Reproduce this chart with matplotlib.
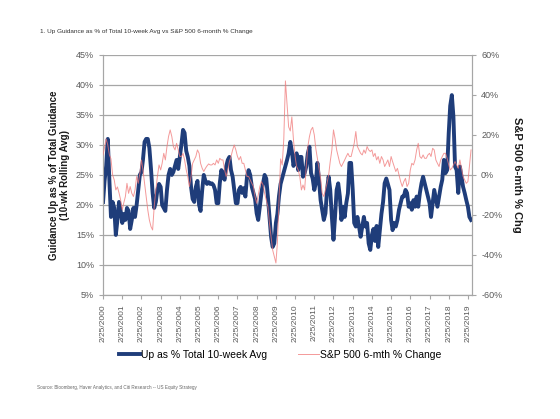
import matplotlib
matplotlib.use("Agg")
import matplotlib.pyplot as plt
import pandas as pd

plt.rcParams['font.family'] = ['Liberation Sans', 'DejaVu Sans']

# monthly readings, Feb 2000 .. Apr 2019
up_guidance = [
    20.5, 24, 26.5, 31, 24, 18, 20.5, 19.5, 15, 17.5, 20.5, 19,
    17, 18.5, 17.5, 19.5, 19, 16, 17.5, 19.5, 18, 20, 22.5, 25,
    25.5, 27.5, 30.5, 31, 31, 29.5, 26, 22, 19.5, 20.5, 22.5, 23.5,
    23, 20, 19.5, 19, 22.5, 25, 26, 25, 25.5, 26.5, 27.5, 26,
    28, 30, 32.5, 32, 29, 28, 26.5, 23, 21, 20.5, 23, 24,
    20, 19, 22.5, 25, 24, 23.5, 23.8, 23.5, 23.6, 23.3, 22.5, 20.3,
    20.3, 23.6, 25.8, 24.7, 24.2, 26.4, 27.5, 28, 25.8, 24.7, 22.5, 20.3,
    20.3, 22.5, 23, 22, 22.8, 21.4, 24.7, 25.8, 25, 23, 22, 21,
    18.6, 17.5, 19.7, 22, 23.6, 25, 24.4, 21.4, 18, 14.7, 13, 13.6,
    17, 18.5, 21.5, 23.5, 24.5, 25.5, 26.5, 27.5, 28.6, 30.5, 29, 26.5,
    27.5, 28.6, 25.8, 28, 28, 24.7, 25.3, 26.4, 28.6, 29.7, 25.3, 24.4,
    22.5, 23.6, 27, 24.2, 20.8, 19.2, 17.5, 18.6, 22.5, 24.7, 22.5, 18,
    14.2, 18, 22.5, 23.6, 21.4, 17.5, 19.7, 18, 20.3, 21.9, 27, 27,
    22.5, 17, 16.4, 18, 16.4, 14.7, 16.4, 18, 16.4, 17, 13.6, 12.5,
    15, 16, 14, 16.5, 13, 15.8, 18.5, 20.5, 23.6, 24.4, 23.5, 22.5,
    17.5, 15.8, 17, 16.4, 17.5, 19.2, 20.3, 21.4, 21.4, 22.5, 22, 19.7,
    20.3, 19.2, 20.8, 19.7, 21.4, 19.7, 22, 23.6, 24.7, 23.6, 22.5, 21.4,
    20.3, 18, 20.3, 22.5, 21.1, 19.7, 21.4, 23, 24.2, 27.5, 25.3, 25.8,
    32, 36.5, 38.3, 34.7, 26.4, 25.8, 22, 26.4, 24.7, 23, 22, 20.8,
    19.7, 18, 17.5,
]

spx_6m_chg = [
    10, 14, 18, 15, 10, 8, 0, -2.5, -7.5, -6, -9, -12.5,
    -17.5, -14, -10.8, -4.2, -9.2, -5.8, -9.2, -10.8, -7.5, -0.8, -4.2, 0.8,
    7.5, 2.5, -4.2, -10.8, -17.5, -22.5, -25.8, -27.5, -15.8, -7.5, -0.8, 5,
    2.5, 5.8, 10.8, 7.5, 14.2, 19.2, 22.5, 19.2, 14.2, 12.5, 15.8, 12.5,
    9.2, 9.2, 10.8, 7.5, 2.5, -0.8, -5.8, -0.8, 5.8, 7.5, 9.2, 12.5,
    10.8, 5.8, 3.3, 1.7, 3.3, 4.5, 5.5, 5, 5, 5.8, 5, 7.5,
    5.8, 8.3, 7.5, 7.5, 2.5, -0.8, 2.5, 6.7, 9.2, 12.5, 15, 12.5,
    9.2, 7.5, 9.2, 5.8, 5.8, 2.5, -0.8, -0.8, -2.5, -4.2, -5.8, -10.8,
    -14.2, -10, -5.8, -3.3, -5, -9.2, -12.5, -15.8, -24.2, -30.8, -37.5, -40.8,
    -44, -34, -12.5, 8, 5, 18, 47, 35, 24, 22, 29, 17.5,
    9.2, 4.2, 2.5, -0.8, -7.5, -5, -7.5, 4.2, 14.2, 19.2, 22.5, 23.8,
    20, 13.3, 8.3, 3.3, -1.7, -9.2, -10.8, -7.5, -4.2, 0, 6.7, 12.5,
    22.5, 18.3, 12.5, 9.2, 5.8, 4.2, 5.8, 7.5, 9.2, 10.8, 9.2, 9.2,
    12.5, 15.8, 21.7, 14.2, 12.5, 10.8, 10, 12.5, 10.8, 14.2, 12.5, 11.7,
    12.5, 9.2, 10.8, 7.5, 9.2, 5.8, 9.2, 7.5, 4.2, 5.8, 7.5, 4.2,
    9.2, 6.7, 4.2, 1.7, 3.3, 0, -3.3, -5.8, -3.3, -1.7, -5.8, -4.2,
    2.5, 5.8, 5, 7.5, 12.5, 15.8, 9.2, 8.3, 10, 8.3, 8.3, 10,
    10.8, 9.2, 13.3, 12.5, 7.5, 5.8, 4.2, 7.5, 9.2, 10.8, 10.8, 8.3,
    5, 2.5, 3.3, 5, 6.7, 5, 3.3, 7.5, 3.3, -0.8, -2.5, -4.2,
    -3.3, 4.2, 12.5,
]

tick_years = list(range(2000, 2020))

dates = pd.date_range("2000-02-01", periods=len(up_guidance), freq="MS") + pd.Timedelta(days=24)

grey = "#A6A6A6"
txt = "#595959"

fig = plt.figure(figsize=(5.6, 4.19), dpi=100)
ax = fig.add_axes([0.184, 0.296, 0.659, 0.573])
ax2 = ax.twinx()

ax.plot(dates, up_guidance, color="#1F3D7A", lw=2.8, solid_joinstyle="round",
        label="Up as % Total 10-week Avg", zorder=3)
ax2.plot(dates, spx_6m_chg, color="#F07878", lw=0.7, alpha=0.75,
         label="S&P 500 6-mth % Change", zorder=4)

ax.set_ylim(5, 45)
ax.set_yticks(range(5, 50, 5))
ax.set_yticklabels([f"{v}%" for v in range(5, 50, 5)])
ax2.set_ylim(-60, 60)
ax2.set_yticks(range(-60, 80, 20))
ax2.set_yticklabels([f"{v}%" for v in range(-60, 80, 20)])

ax.set_xlim(pd.Timestamp("2000-02-25"), pd.Timestamp("2019-05-15"))
ax.set_xticks([pd.Timestamp(f"{y}-02-25") for y in tick_years])
ax.set_xticklabels([f"2/25/{y}" for y in tick_years], rotation=90)

ax.grid(axis="y", color=grey, lw=0.9)
ax.set_axisbelow(True)
for a in (ax, ax2):
    for s in a.spines.values():
        s.set_color(grey)
    a.spines["top"].set_visible(False)
    a.tick_params(colors=grey, labelcolor=txt, labelsize=6.5, length=3)
ax.tick_params(axis="x", labelsize=6)

ax.set_ylabel("Guidance Up as % of Total Guidance\n(10-wk Rolling Avg)",
              fontsize=7, fontweight="bold", color="#1a1a1a", labelpad=4)
ax2.set_ylabel("S&P 500 6-mth % Chg", fontsize=8, fontweight="bold",
               color="#1a1a1a", rotation=270, labelpad=14)

h1, l1 = ax.get_legend_handles_labels()
h2, l2 = ax2.get_legend_handles_labels()
fig.legend(h1 + h2, l1 + l2, loc="center", bbox_to_anchor=(0.5, 0.153), ncol=2,
           frameon=False, fontsize=7.5, handlelength=2, handletextpad=0.1,
           columnspacing=3)

fig.text(0.071, 0.926, "1. Up Guidance as % of Total 10-week Avg vs S&P 500 6-month % Change",
         fontsize=4.6, color="#333333", va="center")
fig.text(0.066, 0.074, "Source: Bloomberg, Haver Analytics, and Citi Research -- US Equity Strategy",
         fontsize=3.3, color="#666666", va="center")

fig.savefig("out.png", dpi=100)
